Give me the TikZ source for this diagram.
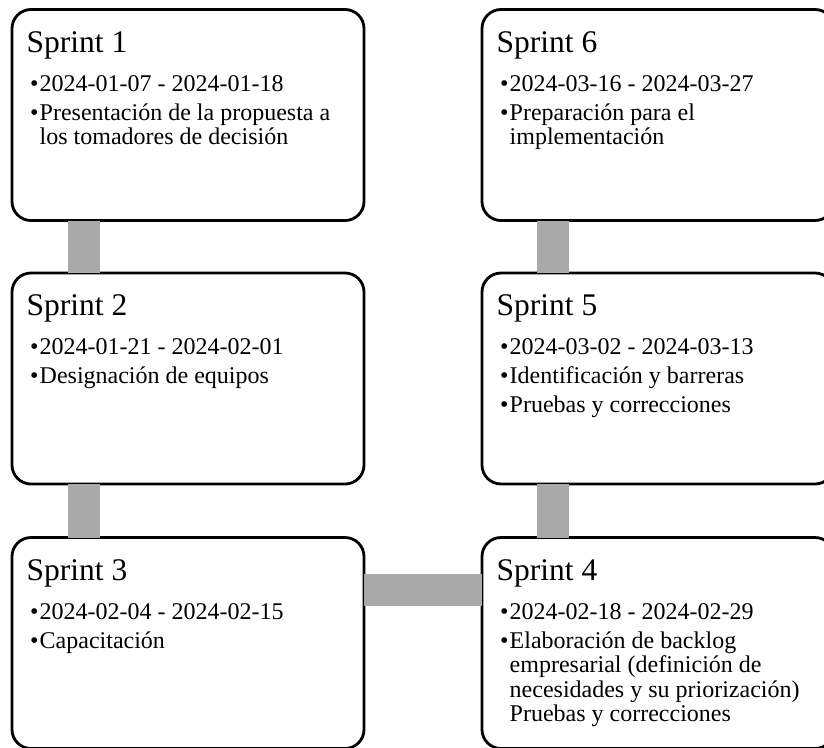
\documentclass[tikz,border=0pt]{standalone}
\usepackage{fontspec}
\setmainfont{Liberation Serif}
\definecolor{conngray}{HTML}{A9A9A9}
\newcommand{\bul}{\hangindent=9.5pt\hangafter=1\noindent\makebox[9.5pt][l]{\textbullet}}
\newcommand{\isep}{\par\vspace{4.5pt}}
\tikzset{
  sprintbox/.style={draw=black, line width=2.8pt, fill=white, rounded corners=19pt,
    minimum width=352pt, minimum height=211pt, inner sep=0pt, outer sep=0pt},
  conn/.style={draw=conngray, line width=32pt, line cap=butt},
  ttl/.style={anchor=base west, inner sep=0pt, font=\fontsize{31.5}{31.5}\selectfont},
  bodytxt/.style={anchor=base west, inner sep=0pt},
}
\newcommand{\bodybox}[1]{\parbox[t]{330pt}{\fontsize{24}{24.5}\selectfont\raggedright\parskip=0pt #1}}
\begin{document}
\begin{tikzpicture}[x=1pt,y=-1pt]
\clip (0,0) rectangle (824,747);
\fill[white] (0,0) rectangle (824,747);
% boxes
\node[sprintbox] (s1) at (188,115) {};
\node[sprintbox] (s2) at (188,378.5) {};
\node[sprintbox] (s3) at (188,643) {};
\node[sprintbox] (s4) at (658,643) {};
\node[sprintbox] (s5) at (658,378.5) {};
\node[sprintbox] (s6) at (658,115) {};
% connectors
\draw[conn] ([xshift=-104pt]s1.south) -- ([xshift=-104pt]s2.north);
\draw[conn] ([xshift=-104pt]s2.south) -- ([xshift=-104pt]s3.north);
\draw[conn] ([yshift=53.5pt]s3.east) -- ([yshift=53.5pt]s4.west);
\draw[conn] ([xshift=-105pt]s4.north) -- ([xshift=-105pt]s5.south);
\draw[conn] ([xshift=-105pt]s5.north) -- ([xshift=-105pt]s6.south);
% titles
\node[ttl] (t1) at ([xshift=14.5pt,yshift=-42.5pt]s1.north west) {Sprint 1};
\node[ttl] (t2) at ([xshift=14.5pt,yshift=-42.5pt]s2.north west) {Sprint 2};
\node[ttl] (t3) at ([xshift=14.5pt,yshift=-42.5pt]s3.north west) {Sprint 3};
\node[ttl] (t4) at ([xshift=14.5pt,yshift=-42.5pt]s4.north west) {Sprint 4};
\node[ttl] (t5) at ([xshift=14.5pt,yshift=-42.5pt]s5.north west) {Sprint 5};
\node[ttl] (t6) at ([xshift=14.5pt,yshift=-42.5pt]s6.north west) {Sprint 6};
% bodies
\node[bodytxt] (b1) at ([xshift=18pt,yshift=-81.5pt]s1.north west) {\bodybox{%
\bul 2024-01-07 - 2024-01-18\isep
\bul Presentación de la propuesta a\newline los tomadores de decisión}};
\node[bodytxt] (b2) at ([xshift=18pt,yshift=-81.5pt]s2.north west) {\bodybox{%
\bul 2024-01-21 - 2024-02-01\isep
\bul Designación de equipos}};
\node[bodytxt] (b3) at ([xshift=18pt,yshift=-81.5pt]s3.north west) {\bodybox{%
\bul 2024-02-04 - 2024-02-15\isep
\bul Capacitación}};
\node[bodytxt] (b4) at ([xshift=18pt,yshift=-81.5pt]s4.north west) {\bodybox{%
\bul 2024-02-18 - 2024-02-29\isep
\bul Elaboración de backlog\newline empresarial (definición de\newline necesidades y su priorización)\newline Pruebas y correcciones}};
\node[bodytxt] (b5) at ([xshift=18pt,yshift=-81.5pt]s5.north west) {\bodybox{%
\bul 2024-03-02 - 2024-03-13\isep
\bul Identificación y barreras\isep
\bul Pruebas y correcciones}};
\node[bodytxt] (b6) at ([xshift=18pt,yshift=-81.5pt]s6.north west) {\bodybox{%
\bul 2024-03-16 - 2024-03-27\isep
\bul Preparación para el\newline implementación}};
\end{tikzpicture}
\end{document}
